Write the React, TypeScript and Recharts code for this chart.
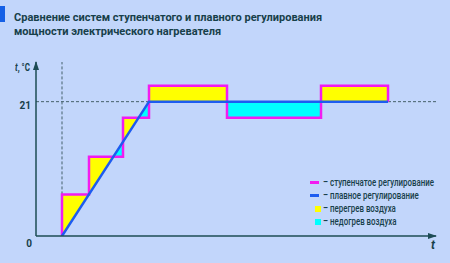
import {
  Area,
  ComposedChart,
  Line,
  ReferenceDot,
  ReferenceLine,
  XAxis,
  YAxis,
} from 'recharts'

const TITLE = [
  'Сравнение систем ступенчатого и плавного регулирования',
  'мощности электрического нагревателя',
]
const Y_LABEL = 't'
const Y_UNIT = ', °C'
const X_LABEL = 't'
const Y_TICKS = [0, 21]
const SETPOINT = 21
const T_MAX = 400
const Y_MAX = 27.2

// stepped regulation: segment boundaries on t and the level held on each segment
const stepT = [26, 53, 87, 113, 191, 285, 352]
const stepV = [6.5, 12.4, 18.5, 23.5, 18.5, 23.5]

// smooth regulation: ramp up to the setpoint, then hold it
const smoothT = [26, 113, 352]
const smoothV = [0, 21, 21]

const legendLabels = [
  '– ступенчатое регулирование',
  '– плавное регулирование',
  '– перегрев воздуха',
  '– недогрев воздуха',
]

const BG = '#c2d6fb'
const INK = '#17404a'
const AXIS = '#1d4c55'
const DASH = '#45606a'
const MAGENTA = '#f21cf0'
const BLUE = '#1d5cf0'
const YELLOW = '#ffff00'
const CYAN = '#00ffff'

const legendSwatch = [
  { kind: 'line', color: MAGENTA },
  { kind: 'line', color: BLUE },
  { kind: 'box', color: YELLOW },
  { kind: 'box', color: CYAN },
]

const smoothAt = (t: number) => {
  if (t <= smoothT[0]) return smoothV[0]
  for (let i = 1; i < smoothT.length; i++) {
    if (t <= smoothT[i]) {
      const k = (t - smoothT[i - 1]) / (smoothT[i] - smoothT[i - 1])
      return smoothV[i - 1] + k * (smoothV[i] - smoothV[i - 1])
    }
  }
  return smoothV[smoothV.length - 1]
}

const lastT = stepT[stepT.length - 1]
const stepped = [
  { t: stepT[0], v: smoothAt(stepT[0]) },
  ...stepV.map((v, i) => ({ t: stepT[i], v })),
  { t: lastT, v: smoothAt(lastT) },
]
const smooth = smoothT.map((t, i) => ({ t, v: smoothV[i] }))

// split the gap between the two curves into overheat / underheat pieces
type Pt = { t: number; v: [number, number] | null }
const over: Pt[] = []
const under: Pt[] = []
stepV.forEach((s, i) => {
  const t0 = stepT[i]
  const t1 = stepT[i + 1]
  const b0 = smoothAt(t0)
  const b1 = smoothAt(t1)
  if (s >= b0 && s >= b1) {
    over.push({ t: t0, v: [b0, s] }, { t: t1, v: [b1, s] }, { t: t1, v: null })
  } else if (s <= b0 && s <= b1) {
    under.push({ t: t0, v: [s, b0] }, { t: t1, v: [s, b1] }, { t: t1, v: null })
  } else {
    const tc = t0 + ((s - b0) / (b1 - b0)) * (t1 - t0)
    over.push({ t: t0, v: [b0, s] }, { t: tc, v: [s, s] }, { t: tc, v: null })
    under.push({ t: tc, v: [s, s] }, { t: t1, v: [s, b1] }, { t: t1, v: null })
  }
})

const font = 'Roboto, "Liberation Sans", sans-serif'

const YTick = ({ x, y, payload }: any) => (
  <text
    x={x + (payload.value === 0 ? 4 : 3)}
    y={y + (payload.value === 0 ? 11 : 7)}
    textAnchor="end"
    fontSize={10}
    fontWeight={700}
    fontFamily={font}
    fill={INK}
  >
    {payload.value}
  </text>
)

const ArrowUp = ({ cx, cy }: any) => (
  <path d={`M${cx},${cy - 1} L${cx - 3},${cy + 8} L${cx + 3},${cy + 8} Z`} fill={AXIS} />
)
const ArrowRight = ({ cx, cy }: any) => (
  <path d={`M${cx + 1},${cy} L${cx - 8},${cy - 3} L${cx - 8},${cy + 3} Z`} fill={AXIS} />
)

export default function App() {
  return (
    <div style={{ position: 'relative', width: 450, height: 263, background: BG, overflow: 'hidden' }}>
      <style>{'body{margin:0}'}</style>
      <div style={{ position: 'absolute', left: 0, top: 6, width: 5, height: 16, background: '#1560e6' }} />
      <div
        style={{
          position: 'absolute',
          left: 14,
          top: 11,
          fontFamily: font,
          fontWeight: 700,
          fontSize: 11,
          lineHeight: '14px',
          color: INK,
          whiteSpace: 'nowrap',
        }}
      >
        {TITLE.map((line) => (
          <div key={line}>{line}</div>
        ))}
      </div>

      <ComposedChart
        width={450}
        height={263}
        margin={{ top: 62, right: 14, bottom: 7, left: 6 }}
        style={{ position: 'absolute', left: 0, top: 0 }}
      >
        <XAxis
          type="number"
          dataKey="t"
          domain={[0, T_MAX]}
          allowDataOverflow
          height={20}
          tick={false}
          tickLine={false}
          axisLine={{ stroke: AXIS, strokeWidth: 1.5 }}
        />
        <YAxis
          type="number"
          domain={[0, Y_MAX]}
          allowDataOverflow
          ticks={Y_TICKS}
          width={30}
          tickLine={false}
          tick={<YTick />}
          axisLine={{ stroke: AXIS, strokeWidth: 1.5 }}
        />
        <ReferenceLine
          segment={[
            { x: stepT[0], y: stepV[0] },
            { x: stepT[0], y: Y_MAX },
          ]}
          stroke={DASH}
          strokeDasharray="3 2"
        />
        <ReferenceLine
          segment={[
            { x: 0, y: SETPOINT },
            { x: smoothT[1], y: SETPOINT },
          ]}
          stroke={DASH}
          strokeDasharray="3 2"
        />
        <ReferenceLine
          segment={[
            { x: lastT, y: SETPOINT },
            { x: T_MAX, y: SETPOINT },
          ]}
          stroke={DASH}
          strokeDasharray="3 2"
        />
        <Area
          data={over}
          dataKey="v"
          type="linear"
          fill={YELLOW}
          fillOpacity={1}
          stroke="none"
          isAnimationActive={false}
        />
        <Area
          data={under}
          dataKey="v"
          type="linear"
          fill={CYAN}
          fillOpacity={1}
          stroke="none"
          isAnimationActive={false}
        />
        <Line
          data={stepped}
          dataKey="v"
          type="stepAfter"
          stroke={MAGENTA}
          strokeWidth={2.5}
          dot={false}
          isAnimationActive={false}
        />
        <Line
          data={smooth}
          dataKey="v"
          type="linear"
          stroke={BLUE}
          strokeWidth={2.5}
          dot={false}
          isAnimationActive={false}
        />
        <ReferenceDot x={0} y={Y_MAX} r={0} shape={<ArrowUp />} ifOverflow="visible" />
        <ReferenceDot x={T_MAX} y={0} r={0} shape={<ArrowRight />} ifOverflow="visible" />
      </ComposedChart>

      <div
        style={{
          position: 'absolute',
          left: 15,
          top: 62,
          fontFamily: font,
          fontWeight: 700,
          fontSize: 10,
          color: INK,
          whiteSpace: 'nowrap',
          transform: 'scaleX(0.8)',
          transformOrigin: 'left top',
        }}
      >
        <i>{Y_LABEL}</i>
        {Y_UNIT}
      </div>
      <div
        style={{
          position: 'absolute',
          left: 431,
          top: 238,
          fontFamily: font,
          fontWeight: 700,
          fontStyle: 'italic',
          fontSize: 12,
          color: INK,
        }}
      >
        {X_LABEL}
      </div>

      <div style={{ position: 'absolute', left: 310, top: 176, fontFamily: font, fontSize: 10, fontWeight: 500, color: INK }}>
        {legendLabels.map((label, i) => (
          <div key={label} style={{ display: 'flex', alignItems: 'center', height: 13 }}>
            <span style={{ width: 13, display: 'flex', justifyContent: legendSwatch[i].kind === 'box' ? 'flex-end' : 'flex-start' }}>
              {legendSwatch[i].kind === 'line' ? (
                <span style={{ width: 9, height: 3, background: legendSwatch[i].color }} />
              ) : (
                <span style={{ width: 6, height: 6, marginRight: 2, background: legendSwatch[i].color }} />
              )}
            </span>
            <span style={{ whiteSpace: 'nowrap', transform: 'scaleX(0.79)', transformOrigin: 'left center' }}>
              {label}
            </span>
          </div>
        ))}
      </div>
    </div>
  )
}
